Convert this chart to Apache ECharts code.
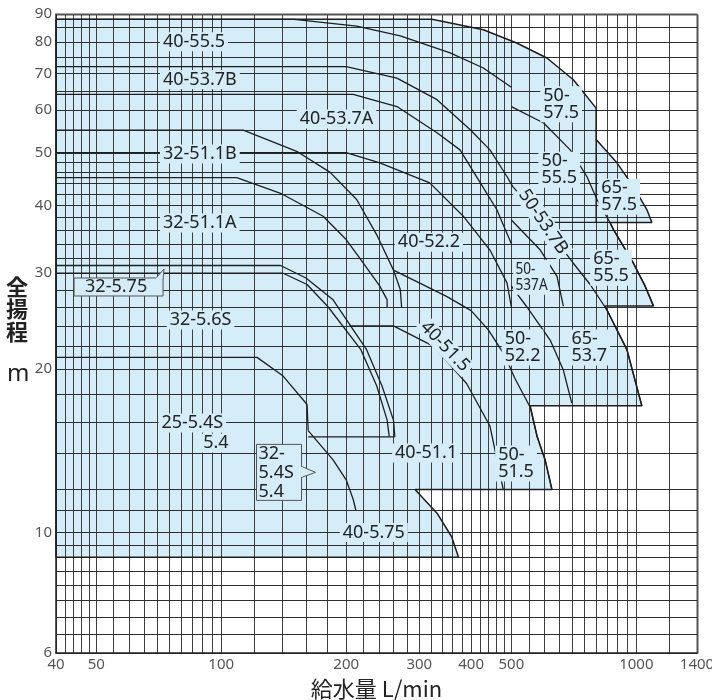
<!DOCTYPE html>
<html>
<head>
<meta charset="utf-8">
<script src="https://cdn.jsdelivr.net/npm/echarts@6/dist/echarts.min.js"></script>
<style>
  html, body { margin: 0; padding: 0; background: #fff; }
  #chart { width: 712px; height: 700px; }
</style>
</head>
<body>
<div id="chart"></div>
<script>
// ---- scale / grid values ----------------------------------------------
const FLOW_GRID = [40, 42, 44, 46, 48, 50, 55, 60, 65, 70, 75, 80, 85, 90, 95, 100,
  120, 140, 160, 180, 200, 220, 240, 260, 280, 300, 320, 340, 360, 380, 400,
  420, 440, 460, 480, 500, 550, 600, 650, 700, 750, 800, 850, 900, 950, 1000, 1200, 1400];
const HEAD_GRID = [6, 6.5, 7, 7.5, 8, 8.5, 9, 9.5, 10, 11, 12, 14, 16, 18, 20, 22, 24, 26, 28,
  30, 32, 34, 36, 38, 40, 42, 44, 46, 48, 50, 55, 60, 65, 70, 75, 80, 85, 90];
const FLOW_TICKS = [40, 50, 100, 200, 300, 400, 500, 1000, 1400];
const HEAD_TICKS = [6, 10, 20, 30, 40, 50, 60, 70, 80, 90];

// ---- outer boundary of the selection range [L/min, m] ------------------
const envelope = [
  [40, 88], [322, 88], [428, 84.2], [515, 79.6], [609, 74.7], [705, 68.1], [800, 60.4],
  [800, 52.9], [898, 47.9], [984, 43.3], [1060, 39.3], [1090, 37.2], [864, 37.2],
  [881, 36.1], [984, 31.3], [1050, 28.4], [1100, 26.1], [839, 26.1],
  [849, 25.7], [949, 21.7], [1031, 17.1], [555, 17.1],
  [577, 15], [603, 13.6], [626, 12], [293, 12],
  [331, 10.85], [359, 9.82], [373, 9], [40, 9]
];

// ---- model boundary curves [L/min, m] ----------------------------------
const c40_555 = [[40, 88], [150, 88], [212, 85.5], [270, 82], [356, 76.3], [428, 71.6], [500, 66]];
const c_537B = [[40, 72], [200, 72], [265, 68.6], [331, 62.6], [398, 55.1], [444, 50.6], [488, 45.2],
  [504, 43.3], [570, 38.9], [638, 34.6], [705, 31.3], [774, 28.6], [849, 25.7], [949, 21.7], [1031, 17.1]];
const c40_537A = [[40, 64], [208, 64], [265, 60.8], [331, 54.4], [376, 50.6], [421, 44], [461, 39.3], [500, 34]];
const c50_537A = [[500, 37.6], [587, 33.1], [644, 29.6], [667, 26.1]];
const c_555 = [[500, 60.8], [598, 56.7], [693, 50.6], [760, 45.2], [804, 41], [864, 37.2],
  [881, 36.1], [984, 31.3], [1050, 28.4], [1100, 26.1]];
const c65_575Left = [[800, 52.9], [800, 37.2]];
const c65_575Base = [[595, 37.2], [864, 37.2]];
const c40_522 = [[40, 50], [200, 50], [241, 47.9], [318, 44], [383, 38.2], [444, 33.1], [488, 28.8], [500, 26]];
const c50_522 = [[500, 28.4], [545, 26], [620, 22.6], [667, 19.9], [699, 17.3]];
const c_515 = [[260, 30.4], [300, 28.8], [349, 27.2], [400, 25.6], [440, 23.6], [480, 21.3],
  [510, 19.2], [555, 17.0], [577, 15], [603, 13.6], [626, 12]];
const c40_511 = [[204, 24], [260, 24], [325, 22], [390, 18.8], [444, 15.7], [478, 12]];
const c32_575 = [[40, 31], [139, 31], [160, 29.4], [186, 26.8], [224, 21.7], [244, 18.6], [260, 16.1], [262, 15]];
const c32_56S = [[40, 30], [141, 30], [161, 28.6], [181, 26], [217, 21.7], [237, 18.6], [251, 16.1], [254, 15]];
const c32_base15 = [[162, 15], [262, 15]];
const c32_511B = [[40, 55], [113, 55], [152, 50.3], [183, 46], [212, 41], [237, 35.3], [260, 30.4], [270, 28], [272, 26]];
const c32_511A = [[40, 45], [109, 45], [139, 42.1], [176, 38.2], [200, 34.6], [220, 31.3], [241, 28.4], [251, 26.8], [251, 26]];
const c25_54S = [[40, 21], [122, 21], [141, 19.4], [161, 17.2], [162, 15.4]];
const c32_54S = [[162, 15.4], [186, 13.6], [200, 12.5], [208, 11.5], [211, 11]];

const curves = [c40_555, c_537B, c40_537A, c50_537A, c_555, c65_575Left, c65_575Base,
  c40_522, c50_522, c_515, c40_511, c32_575, c32_56S, c32_base15, c32_511B, c32_511A, c25_54S, c32_54S];

// ---- model names and where they sit [L/min, m] --------------------------
const modelNames = ['40-55.5', '40-53.7B', '40-53.7A', '32-51.1B', '32-51.1A', '32-5.75', '32-5.6S',
  '25-5.4S', '5.4', '32-\n5.4S\n5.4', '40-51.1', '40-5.75', '40-52.2', '40-51.5', '50-53.7B',
  '50-\n57.5', '50-\n55.5', '65-\n57.5', '65-\n55.5', '50-\n537A', '50-\n52.2', '65-\n53.7', '50-\n51.5'];
const nameAt = [[71.2, 80], [71.2, 68.2], [152, 57.7], [71.2, 49.7], [71.2, 37.1], [47, 28.3], [73.9, 24.6],
  [70.6, 15.9], [89, 14.6], [123, 12.9], [258, 14.0], [193, 10], [262, 34.2], [346, 22.0], [596, 37.3],
  [587, 61.4], [581, 46.5], [810, 41.5], [774, 30.7], [505, 29.5], [474, 21.9], [686, 21.9], [457, 13.4]];

// ---- drawing styles ------------------------------------------------------
const FILL = '#d5edf8';
const INK = '#1e1e1e';
const FONT = '"Noto Sans", "Noto Sans CJK JP", sans-serif';
const rotated = { '40-51.5': -46, '50-53.7B': -56 };

const chart = echarts.init(document.getElementById('chart'), null, { renderer: 'canvas' });

function gridLine(vertical) {
  return function (params, api) {
    const v = api.value(vertical ? 0 : 1);
    const a = vertical ? api.coord([v, 6]) : api.coord([40, v]);
    const b = vertical ? api.coord([v, 90]) : api.coord([1400, v]);
    const edge = vertical ? (v === 1400) : (v === 90);
    const x1 = Math.round(a[0]) + 0.5, y1 = Math.round(a[1]) + 0.5;
    const x2 = Math.round(b[0]) + 0.5, y2 = Math.round(b[1]) + 0.5;
    return {
      type: 'line',
      shape: { x1: x1, y1: y1, x2: x2, y2: y2 },
      style: { stroke: edge ? '#555' : (vertical ? '#3f3f3f' : '#2e2e2e'), lineWidth: edge ? 2 : 1 }
    };
  };
}

function renderName(params, api) {
  const i = api.value(2);
  const text = modelNames[i];
  const p = api.coord([api.value(0), api.value(1)]);
  const rot = rotated[text];
  const narrow = text.indexOf('537A') >= 0;
  const style = {
    text: text, fill: '#222', fontSize: narrow ? 17 : 18, fontFamily: FONT,
    lineHeight: narrow ? 16.5 : 17, align: rot ? 'center' : 'left', verticalAlign: 'middle',
    backgroundColor: FILL, padding: [1, 3]
  };
  const children = [];
  if (text === '32-5.75') {
    const x = p[0] - 11, y = p[1] - 9, w = 89, h = 18;
    children.push({ type: 'rect', shape: { x: x, y: y, width: w, height: h },
      style: { fill: FILL, stroke: '#555', lineWidth: 1 } });
    children.push({ type: 'polygon', shape: { points: [[x + w - 7, y], [x + w + 1, y - 9], [x + w, y + 1]] },
      style: { fill: FILL, stroke: '#555', lineWidth: 1 } });
    children.push({ type: 'rect', shape: { x: x + w - 7, y: y - 0.5, width: 6.5, height: 2 }, style: { fill: FILL } });
    style.backgroundColor = null;
    style.padding = 0;
  } else if (text.indexOf('5.4S\n') >= 0) {
    const x = p[0] - 2, y = p[1] - 28, w = 45, h = 56;
    children.push({ type: 'rect', shape: { x: x, y: y, width: w, height: h },
      style: { fill: FILL, stroke: '#555', lineWidth: 1 } });
    children.push({ type: 'polygon', shape: { points: [[x + w, y + 22], [x + w + 14, y + 28], [x + w, y + 33]] },
      style: { fill: FILL, stroke: '#555', lineWidth: 1 } });
    children.push({ type: 'rect', shape: { x: x + w - 1, y: y + 22.5, width: 2, height: 10 }, style: { fill: FILL } });
    style.backgroundColor = null;
    style.padding = 0;
    style.lineHeight = 19;
  }
  children.push({
    type: 'text', x: p[0], y: p[1],
    scaleX: narrow ? 0.8 : 1,
    rotation: rot ? rot * Math.PI / 180 : 0,
    style: style
  });
  return { type: 'group', children: children };
}

const lineSeries = curves.map(function (c) {
  return {
    type: 'line', data: c, symbol: 'none', silent: true, z: 4, animation: false,
    lineStyle: { color: INK, width: 1.3 }
  };
});

const option = {
  animation: false,
  backgroundColor: '#fff',
  grid: { left: 56, right: 15, top: 14, bottom: 47, outerBoundsMode: 'none', containLabel: false },
  xAxis: {
    type: 'log', logBase: 10, min: 40, max: 1400, z: 10,
    axisLine: { show: true, onZero: false, lineStyle: { color: '#222', width: 1.5 } },
    axisTick: { show: false }, splitLine: { show: false }, minorTick: { show: false },
    axisLabel: {
      customValues: FLOW_TICKS, color: '#555', fontSize: 15, fontFamily: FONT, margin: 4,
      formatter: function (v) { return String(Math.round(v)); }
    },
    name: '給水量 L/min', nameLocation: 'middle', nameGap: 25,
    nameTextStyle: { color: '#222', fontSize: 22, fontFamily: '"Noto Sans CJK JP", sans-serif' }
  },
  yAxis: {
    type: 'log', logBase: 10, min: 6, max: 90, z: 10,
    axisLine: { show: true, onZero: false, lineStyle: { color: '#222', width: 1.5 } },
    axisTick: { show: false }, splitLine: { show: false }, minorTick: { show: false },
    axisLabel: {
      customValues: HEAD_TICKS, color: '#555', fontSize: 15, fontFamily: FONT, margin: 4,
      formatter: function (v) { return String(Math.round(v)); }
    }
  },
  graphic: [
    { type: 'text', left: 6, top: 275,
      style: { text: '全\n揚\n程', fill: '#222', fontSize: 22, fontWeight: 'bold', lineHeight: 22.5,
        fontFamily: '"Noto Sans CJK JP", sans-serif' } },
    { type: 'text', left: 7, top: 362,
      style: { text: 'm', fill: '#222', fontSize: 24, fontFamily: FONT } }
  ],
  series: [
    {
      type: 'custom', z: 1, silent: true, animation: false,
      data: [[40, 9]],
      renderItem: function (params, api) {
        return { type: 'polygon', shape: { points: envelope.map(function (d) { return api.coord(d); }) },
          style: { fill: FILL } };
      }
    },
    { type: 'custom', z: 2, silent: true, animation: false,
      data: FLOW_GRID.map(function (v) { return [v, 6]; }), renderItem: gridLine(true) },
    { type: 'custom', z: 2, silent: true, animation: false,
      data: HEAD_GRID.map(function (v) { return [40, v]; }), renderItem: gridLine(false) },
    {
      type: 'line', data: envelope.concat([envelope[0]]), symbol: 'none', silent: true, z: 4,
      animation: false, lineStyle: { color: INK, width: 1.5 }
    }
  ].concat(lineSeries).concat([
    {
      type: 'custom', z: 6, silent: true, animation: false,
      data: nameAt.map(function (d, i) { return [d[0], d[1], i]; }),
      renderItem: renderName
    }
  ])
};

chart.setOption(option);
</script>
</body>
</html>
